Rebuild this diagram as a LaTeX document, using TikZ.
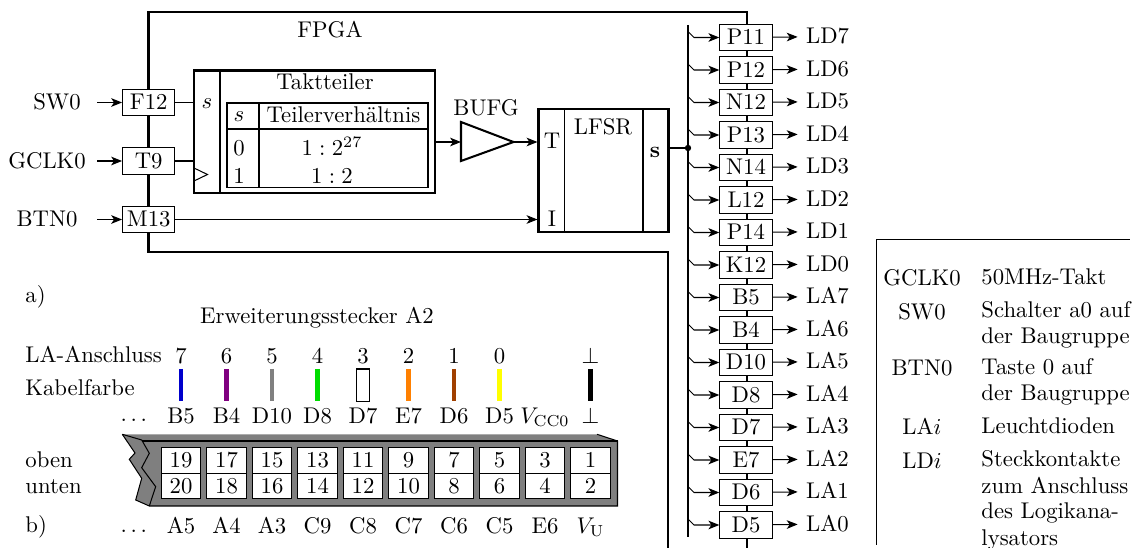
\documentclass[tikz,border=0pt]{standalone}
\usepackage{amsmath}
\usetikzlibrary{positioning, arrows.meta, calc}
\definecolor{dgrey}{HTML}{7F7F7F}
\definecolor{cblue}{HTML}{0000CC}
\definecolor{cpurple}{HTML}{800080}
\definecolor{cgrey}{HTML}{808080}
\definecolor{cgreen}{HTML}{00DD00}
\definecolor{corange}{HTML}{FF8000}
\definecolor{cbrown}{HTML}{A04000}
\definecolor{cyellow}{HTML}{FFFF00}
\tikzset{
  lab/.style={inner sep=0pt, text height=1.5ex, text depth=0pt},
  linelab/.style={inner sep=0pt, anchor=base west},
  pinbox/.style={draw, fill=white, line width=0.45pt, inner sep=0pt, minimum width=23pt,
                 minimum height=11.5pt, text height=1.5ex, text depth=0pt},
  cell/.style={draw, fill=white, line width=0.45pt, inner sep=0pt, minimum width=17.2pt,
               minimum height=11.4pt, text height=1.5ex, text depth=0pt},
  block/.style={draw, line width=0.9pt, inner sep=0pt},
  flow/.style={-{Stealth[length=4.8pt, width=3.8pt, inset=1.3pt]}, line width=0.45pt},
  rand/.style={line width=0.9pt},
  wire/.style={line width=0.45pt},
}
\begin{document}
\begin{tikzpicture}[x=0.44pt, y=-0.44pt]
  \useasboundingbox (0,0) rectangle (1136,548);
  % FPGA outline
  \draw[rand] (747,548) -- (747,12) -- (148.5,12) -- (148.5,252) -- (668,252) -- (668,548);
  \node[lab] (fpga) at (330,30) {FPGA};
  % left pins
  \foreach \pin/\sig/\py/\lx in {F12/SW0/102.5/57, T9/GCLK0/161/47, M13/BTN0/219.5/47}{
    \node[pinbox] (\pin) at (148.7,\py) {\pin};
    \node[lab] (\sig) at (\lx,\py) {\sig};
    \coordinate (in\pin) at (97,\py);
    \draw[flow] (in\pin) -- (\pin);
  }
  % clock divider
  \node[block, minimum width=105.9pt, minimum height=54.1pt] (teiler) at (314.3,132) {};
  \draw[wire] (220,70.5) -- (220,193.5);
  \draw[wire] (194,168) -- (207.5,174.5) -- (194,181);
  \node[lab] (teilerS) at (207,101.5) {$s$};
  \node[lab] (teilerT) at (325,82) {Taktteiler};
  \draw[wire] (227,103) rectangle (428,187.5);
  \draw[wire] (227,129) -- (428,129);
  \draw[wire] (259,103) -- (259,187.5);
  \node[lab] (headS) at (239,114.5) {$s$};
  \node[lab] (headV) at (343.5,115.5) {Teilerverh\"altnis};
  \node[lab] (rowA) at (239,148) {0};
  \node[lab] (rowB) at (239,176) {1};
  \node[lab] (valA) at (332,148.5) {$1:2^{27}$};
  \node[lab] (valB) at (332,176) {$1:2$};
  \draw[wire] (F12) -- (F12 -| teiler.west);
  \draw[wire] (T9) -- (T9 -| teiler.west);
  % buffer
  \coordinate (bufIn) at (461,142);
  \coordinate (bufOut) at (513.5,142);
  \draw[rand, line join=miter] (461,122) -- (bufOut) -- (461,161) -- cycle;
  \node[lab] (bufg) at (486,108) {BUFG};
  \draw[flow] (teiler.east |- bufIn) -- (bufIn);
  % LFSR
  \node[block, minimum width=57.2pt, minimum height=54.3pt] (lfsr) at (603.5,170.7) {};
  \draw[wire] (564.5,109) -- (564.5,232.5);
  \draw[wire] (643,109) -- (643,232.5);
  \node[lab] (lfsrN) at (603,127.5) {LFSR};
  \node[lab] (lfsrT) at (552,141.5) {T};
  \node[lab] (lfsrI) at (552,219) {I};
  \node[lab] (lfsrS) at (655,150) {\textbf{s}};
  \draw[flow] (bufOut) -- (lfsr.west |- bufOut);
  \draw[flow] (M13) -- (lfsr.west |- M13);
  % LED bus
  \coordinate (busTop) at (688,25);
  \coordinate (busEnd) at (688,537);
  \coordinate (busIn) at (688,148);
  \draw[rand, line width=1.1pt] (busTop) -- (busEnd);
  \draw[rand] (lfsr.east |- busIn) -- (busIn);
  \fill (busIn) circle (1.4pt);
  \foreach \pin/\led [count=\i from 0] in {P11/LD7, P12/LD6, N12/LD5, P13/LD4, N14/LD3,
      L12/LD2, P14/LD1, K12/LD0, B5/LA7, B4/LA6, D10/LA5, D8/LA4, D7/LA3, E7/LA2,
      D6/LA1, D5/LA0}{
    \node[pinbox] (pin\i) at (746,37.5+32.5*\i) {\pin};
    \node[lab, right=11pt of pin\i, inner xsep=3.5pt, yshift=0.4pt] (led\i) {\led};
    \coordinate (tap\i) at (688,31.5+32.5*\i);
    \draw[flow] (tap\i) -- ++(6,6) -- (pin\i);
    \draw[flow] (pin\i) -- (led\i);
  }
  % connector
  \node[linelab] (labA) at (25,303) {a)};
  \node[lab] (stecker) at (317,316) {Erweiterungsstecker A2};
  \node[linelab] (laAn) at (25,363) {LA-Anschluss};
  \node[linelab] (kabel) at (25,396) {Kabelfarbe};
  \node[linelab] (oben) at (25,468) {oben};
  \node[linelab] (unten) at (25,494) {unten};
  \node[linelab] (labB) at (25,532) {b)};
  \node[inner sep=0pt, anchor=base] (dotsT) at (135.7,422) {$\dots$};
  \node[inner sep=0pt, anchor=base] (dotsB) at (135.7,532) {$\dots$};
  \fill[dgrey] (122.3,434.3) -- (597,434.3) -- (617.5,441) -- (617.5,506) -- (149.3,506)
    -- (135.7,500) -- (141.7,478.3) -- (129.3,459.3) -- (135,453) -- cycle;
  \draw[wire] (122.3,434.3) -- (135,453) -- (129.3,459.3) -- (141.7,478.3) -- (135.7,500)
    -- (149.3,506) -- (617.5,506) -- (617.5,441) -- (597,434.3);
  \draw[wire] (122.3,434.3) -- (141.7,440) -- (149.3,453.3) -- (141.7,467.7) -- (155.7,486.7)
    -- (149.3,506);
  \draw[line width=0.7pt] (141.7,441) -- (617.5,441);
  \foreach \la/\up/\dn/\odd/\even/\col [count=\i from 0] in {
      7/B5/A5/19/20/cblue, 6/B4/A4/17/18/cpurple, 5/D10/A3/15/16/cgrey, 4/D8/C9/13/14/cgreen,
      3/D7/C8/11/12/white, 2/E7/C7/9/10/corange, 1/D6/C6/7/8/cbrown, 0/D5/C5/5/6/cyellow,
      {}/{$V_{\mathrm{CC0}}$}/E6/3/4/white, {$\bot$}/{$\bot$}/{$V_{\mathrm{U}}$}/1/2/black}{
    \node[lab] (la\i) at (181+45.5*\i,356) {\la};
    \node[lab] (up\i) at (181+45.5*\i,416) {\up};
    \node[lab] (dn\i) at (181+45.5*\i,526) {\dn};
    \node[cell] (odd\i) at (181+45.5*\i,460.2) {\odd};
    \node[cell] (even\i) at (181+45.5*\i,486) {\even};
    \ifnum\i=8\else
      \draw[line width=1.9pt, \col] (181+45.5*\i,369) -- (181+45.5*\i,401.5);
    \fi
  }
  \draw[wire] (356.5,369) rectangle (369.5,401.5);
  % legend
  \draw[wire] (876.7,545) -- (876.7,239.3) -- (1130,239.3);
  \foreach \key/\py/\nm in {GCLK0/278/lgA, SW0/312/lgB, BTN0/368.5/lgC, LA$i$/427/lgD, LD$i$/461/lgE}{
    \node[lab] (\nm) at (922,\py) {\key};
  }
  \foreach \txt/\py [count=\i] in {50MHz-Takt/285, Schalter a0 auf/318, der Baugruppe/343.5,
      Taste 0 auf/375, der Baugruppe/401, Leuchtdioden/433.5, Steckkontakte/467,
      zum Anschluss/493, des Logikana-/519, lysators/545}{
    \node[linelab] (lgt\i) at (981,\py) {\txt};
  }
\end{tikzpicture}
\end{document}
